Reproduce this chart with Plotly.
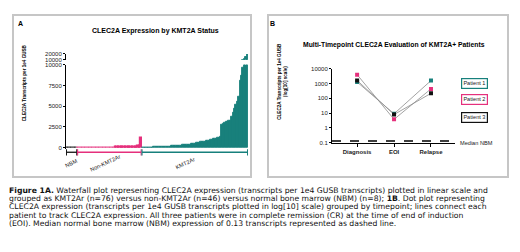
import plotly.graph_objects as go

W, H = 520, 252
OFF = 8  # page body margin in the browser
def px(x): return (x - OFF) / W
def py(y): return 1 - (y - OFF) / H

# ---------------- data ----------------
group_names = ["NBM", "Non-KMT2Ar", "KMT2Ar"]
nbm_values = [0.02, 0.05, 0.08, 0.1, 0.13, 0.15, 0.3, 0.6]
non_kmt2ar_values = [0.5, 1, 1, 2, 2, 3, 4, 5, 6, 7, 8, 10, 12, 14, 15, 18, 20, 22, 25, 28,
                     30, 33, 36, 40, 44, 48, 52, 56, 60, 65, 70, 75, 80, 86, 92, 98, 105, 112,
                     120, 130, 140, 150, 165, 180, 200, 1200]
kmt2ar_values = [8, 12, 18, 25, 30, 38, 45, 52, 60, 68, 75, 85, 92, 100, 110, 120,
                 130, 140, 150, 162, 175, 188, 200, 212, 225, 238, 252, 268,
                 285, 300, 318, 340, 360, 385, 410, 435, 460, 490, 525, 560,
                 600, 635, 670, 705, 740, 775, 810, 850, 895, 940,
                 985, 1030, 1080, 1130, 1180, 1260, 1370,
                 2790, 2900, 3000, 3080, 3150, 3220, 3290,
                 3760, 4270, 4700, 5140, 5600, 6100, 8080, 8660, 9640,
                 11000, 15000, 21000]
a_low_ticks = [0, 2500, 5000, 7500, 10000]
a_low_ticktext = ["0", "2500", "5000", "7500", "10000"]
a_high_ticks = [10000, 20000]
a_high_ticktext = ["10000", "20000"]

timepoints = ["Diagnosis", "EOI", "Relapse"]
patients = ["Patient 1", "Patient 2", "Patient 3"]
patient1 = [1250, 9, 1550]
patient2 = [3900, 3.8, 430]
patient3 = [1600, 8, 215]
b_ticks = [0.1, 1, 10, 100, 1000, 10000]
b_ticktext = ["0.1", "1", "10", "100", "1000", "10000"]
MEDIAN_NBM = 0.13

TEAL = "#17807c"
PINK = "#e5307c"
BLACK = "#111111"
group_colors = [BLACK, PINK, TEAL]
patient_colors = [TEAL, PINK, BLACK]

FONT = "Liberation Sans"

fig = go.Figure()

# ---------------- panel A bars ----------------
groups = [nbm_values, non_kmt2ar_values, kmt2ar_values]
offset = 0
offsets = []
for vals, col in zip(groups, group_colors):
    xs = list(range(offset, offset + len(vals)))
    offsets.append(offset)
    for xa, ya in (("x", "y"), ("x2", "y2")):
        fig.add_trace(go.Bar(x=xs, y=vals, xaxis=xa, yaxis=ya, width=1,
                             marker=dict(color=col, line=dict(color=col, width=1.2 if col != TEAL else 0.9)),
                             showlegend=False, hoverinfo="skip"))
    offset += len(vals)
n_total = offset

# ---------------- panel B ----------------
for name, vals, col in zip(patients, [patient1, patient2, patient3], patient_colors):
    fig.add_trace(go.Scatter(x=[0, 1, 2], y=vals, xaxis="x3", yaxis="y3", mode="lines+markers",
                             line=dict(color="#8c8c8c", width=0.8),
                             marker=dict(color=col, size=4, symbol="square"),
                             showlegend=False, name=name))

axis_common = dict(showgrid=False, zeroline=False, linecolor="black", linewidth=1,
                   tickcolor="black", ticks="outside", ticklen=2, tickwidth=1,
                   tickfont=dict(family=FONT, size=6, color="#222"))

fig.update_layout(
    width=W, height=H, margin=dict(l=0, r=0, t=0, b=0),
    paper_bgcolor="white", plot_bgcolor="rgba(0,0,0,0)",
    bargap=0, barmode="overlay",
    xaxis=dict(domain=[px(66), px(248)], range=[-0.5, n_total - 0.5], visible=False, anchor="y"),
    xaxis2=dict(domain=[px(66), px(248)], range=[-0.5, n_total - 0.5], visible=False, anchor="y2", matches="x"),
    yaxis=dict(domain=[py(149), py(63)], range=[-120, 10000], anchor="x", showline=True,
               tickvals=a_low_ticks, ticktext=a_low_ticktext, **axis_common),
    yaxis2=dict(domain=[py(58), py(52)], range=[10000, 20000], anchor="x2", showline=True,
                tickvals=a_high_ticks, ticktext=a_high_ticktext, **axis_common),
    xaxis3=dict(domain=[px(332), px(455)], range=[-0.68, 2.65], anchor="y3", showline=True,
                tickvals=[0, 1, 2], ticktext=["<b>%s</b>" % t for t in timepoints], **axis_common),
    yaxis3=dict(domain=[py(143), py(67)], type="log", range=[-1, 4], anchor="x3", showline=True,
                tickvals=b_ticks, ticktext=b_ticktext, **axis_common),
)
fig.layout.xaxis3.ticklen = 3

shapes = []
# panel boxes
for x0, x1 in ((13, 251), (268, 508)):
    shapes.append(dict(type="rect", xref="paper", yref="paper", x0=px(x0), x1=px(x1),
                       y0=py(178), y1=py(12), line=dict(color="#c6c6c6", width=2)))
# group brackets
for off, vals, col in zip(offsets, groups, group_colors):
    s, e = off - 0.5 + 0.3, off + len(vals) - 0.5 - 0.3
    shapes.append(dict(type="line", xref="x", yref="paper", x0=s, x1=e, y0=py(152.7), y1=py(152.7),
                       line=dict(color=col, width=1.3)))
    for xx in (s, e):
        shapes.append(dict(type="line", xref="x", yref="paper", x0=xx, x1=xx, y0=py(149.5), y1=py(156),
                           line=dict(color=col, width=1.1)))
# median NBM dashed line
shapes.append(dict(type="line", xref="x3 domain", yref="y3", x0=0, x1=1, y0=MEDIAN_NBM, y1=MEDIAN_NBM,
                   line=dict(color="black", width=1.5, dash="dash")))
fig.update_layout(shapes=shapes)

ann = []
def text(x, y, s, size=6, bold=False, color="black", **kw):
    d = dict(xref="paper", yref="paper", x=px(x), y=py(y), text=("<b>%s</b>" % s) if bold else s,
             showarrow=False, xanchor="center", yanchor="middle",
             font=dict(family=FONT, size=size, color=color))
    d.update(kw)
    ann.append(d)

text(20.5, 21, "A", size=7, bold=True)
text(272, 21, "B", size=7, bold=True)
text(155, 28, "CLEC2A Expression by KMT2A Status", size=7, bold=True)
text(394, 43, "Multi-Timepoint CLEC2A Evaluation of KMT2A+ Patients", size=6.8, bold=True)
text(24, 82, "CLEC2A Transcripts per 1e4 GUSB", size=4.6, bold=True, textangle=-90)
text(282.5, 80, "CLEC2A Transcripts per 1e4 GUSB<br>(log[10] scale)", size=4.6, bold=True, textangle=-90)

# group labels (rotated)
for off, vals, name, shift in zip(offsets, groups, group_names, [0, -4, -9]):
    ann.append(dict(xref="x", yref="paper", x=off + (len(vals) - 1) / 2, y=py(164), text=name,
                    showarrow=False, textangle=-25, xshift=shift, xanchor="center", yanchor="middle",
                    font=dict(family=FONT, size=5.6, color="#222")))

# legend boxes
for name, col, yy in zip(patients, patient_colors, [82, 99, 117]):
    text(474, yy, name, size=5.6, color="#222", bordercolor=col, borderwidth=1.2, borderpad=1.2,
         bgcolor="white")
text(458, 143, "Median NBM", size=5.6, color="#222", xanchor="left")

captions = [
    "<b>Figure 1A.</b> Waterfall plot representing CLEC2A expression (transcripts per 1e4 GUSB transcripts) plotted in linear scale and",
    "grouped as KMT2Ar (n=76) versus non-KMT2Ar (n=46) versus normal bone marrow (NBM) (n=8); <b>1B</b>. Dot plot representing",
    "CLEC2A expression (transcripts per 1e4 GUSB transcripts plotted in log[10] scale) grouped by timepoint; lines connect each",
    "patient to track CLEC2A expression. All three patients were in complete remission (CR) at the time of end of induction",
    "(EOI). Median normal bone marrow (NBM) expression of 0.13 transcripts represented as dashed line.",
]
for i, line in enumerate(captions):
    ann.append(dict(xref="paper", yref="paper", x=px(6.5), y=py(191.5 + i * 8.5), text=line,
                    showarrow=False, xanchor="left", yanchor="middle",
                    font=dict(family="DejaVu Sans", size=7.7, color="#111")))
fig.update_layout(annotations=ann)

fig.write_html("out.html")
